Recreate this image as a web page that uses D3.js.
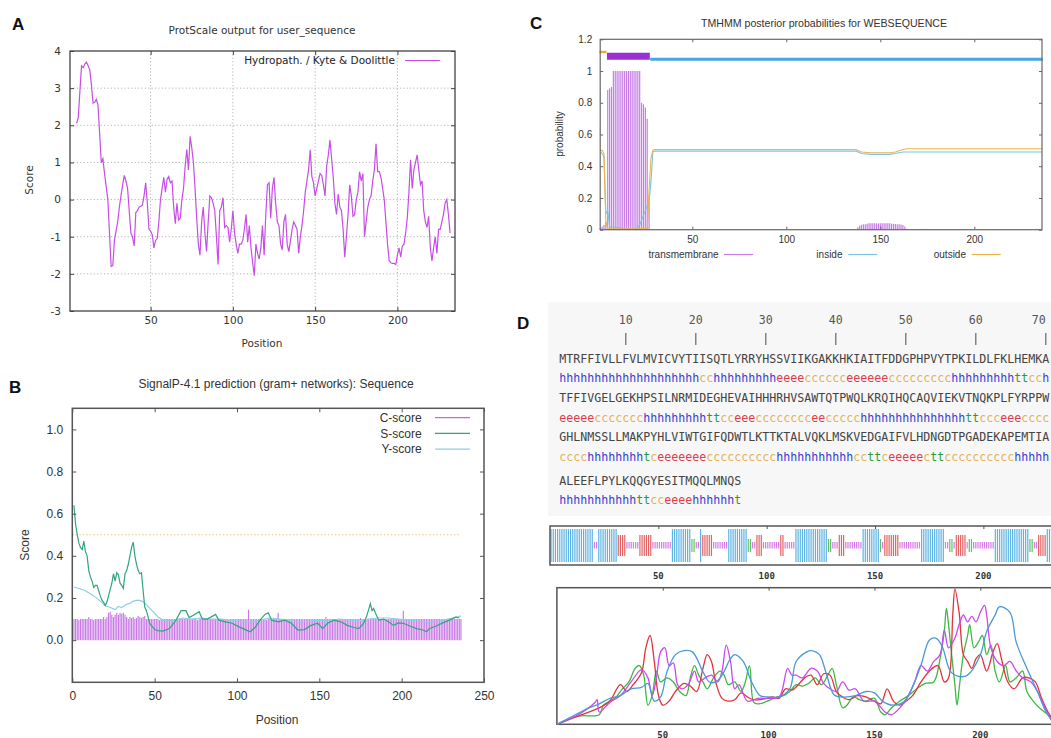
<!DOCTYPE html>
<html>
<head>
<meta charset="utf-8">
<title>Protein sequence analysis panels</title>
<script src="https://cdn.jsdelivr.net/npm/d3@7"></script>
<style>
  body { margin: 0; background: #fff; }
  svg { display: block; }
</style>
</head>
<body>
<svg id="fig" width="1051" height="738"></svg>
<script>
// ---------- A: ProtScale (Kyte & Doolittle) ----------
const kdXTicks = [50, 100, 150, 200];
const kdYTicks = [-3, -2, -1, 0, 1, 2, 3, 4];
const kdProfile = [
  [5,2.05],[6,2.2],[7,2.9],[8,3.6],[9,3.55],[10,3.65],[11,3.7],[12,3.6],[13,3.5],[14,3.1],[15,2.6],[16,2.62],[17,2.7],[18,2.55],[19,1.8],[20,1.0],
  [21,1.1],[22,0.7],[23,0.35],[24,0],[25,-0.9],[26,-1.8],[27,-1.78],[28,-1.1],[29,-0.85],[30,-0.6],[31,-0.2],[32,0.1],[33,0.4],[34,0.65],[35,0.5],
  [36,0.3],[37,-0.3],[38,-0.9],[39,-1.0],[40,-1.25],[41,-0.35],[42,-0.3],[43,-0.2],[44,-0.18],[45,-0.15],[46,0.1],[47,0.45],[48,-0.1],[49,-0.8],
  [50,-0.85],[51,-0.95],[52,-1.3],[53,-1.1],[54,-1.05],[55,-0.6],[56,0],[57,0.3],[58,0.6],[59,0.2],[60,0.55],[61,0.62],[62,0.45],[63,0.5],
  [64,-0.2],[65,-0.65],[66,-0.1],[67,-0.55],[68,-0.5],[69,0],[70,0.3],[71,0.9],[72,1.35],[73,0.8],[74,1.7],[75,1.4],[76,1.0],[77,0.3],[78,-0.5],
  [79,-1.2],[80,-1.5],[81,-0.6],[82,-0.2],[83,-0.9],[84,-1.4],[85,-0.6],[86,0.1],[87,0.05],[88,-0.1],[89,-0.3],[90,-1.0],[91,-1.75],[92,-0.3],
  [93,-0.2],[94,0.05],[95,-0.75],[96,-0.7],[97,-0.75],[98,-1.15],[99,-0.8],[100,-0.3],[101,-0.9],[102,-1.2],[103,-1.45],[104,-1.2],[105,-1.2],
  [106,-1.1],[107,-0.8],[108,-0.4],[109,-1.15],[110,-0.7],[111,-1.3],[112,-1.7],[113,-2.05],[114,-1.2],[115,-1.45],[116,-1.6],[117,-1.3],
  [118,-0.7],[119,-1.5],[120,-0.4],[121,0.4],[122,0.45],[123,-0.5],[124,0.3],[125,0.6],[126,-0.1],[127,-0.6],[128,-0.7],[129,-1.2],[130,-1.35],
  [131,-0.6],[132,-0.4],[133,-1.2],[134,-1.4],[135,-1.1],[136,-0.8],[137,-0.6],[138,-0.7],[139,-0.8],[140,-1.45],[141,-1.0],[142,-0.7],[143,-0.3],
  [144,0.2],[145,0.5],[146,0.8],[147,1.34],[148,0.62],[149,0.45],[150,0.1],[151,0.3],[152,0.5],[153,0.7],[154,0.65],[155,0.4],[156,0.1],
  [157,0.9],[158,1.2],[159,1.6],[160,1.1],[161,0.6],[162,-0.1],[163,-0.4],[164,0.15],[165,-0.2],[166,-0.3],[167,-0.8],[168,-1.55],[169,-1.0],
  [170,-0.4],[171,0.4],[172,0.1],[173,-0.45],[174,-0.4],[175,0],[176,0.2],[177,0.75],[178,0.5],[179,0.7],[180,-1.0],[181,-0.6],[182,-0.2],
  [183,0],[184,0.1],[185,0.5],[186,0.8],[187,1.5],[188,0.75],[189,0.75],[190,0.6],[191,0.3],[192,0],[193,-0.6],[194,-1.2],[195,-1.65],
  [196,-1.7],[197,-1.72],[198,-1.72],[199,-1.75],[200,-1.5],[201,-1.3],[202,-1.55],[203,-1.25],[204,-1.2],[205,-0.9],[206,-0.5],[207,0.2],
  [208,1.07],[209,0.3],[210,0.8],[211,1.0],[212,1.2],[213,0.8],[214,0.4],[215,0.5],[216,-0.3],[217,-0.6],[218,-0.75],[219,-0.45],[220,-1.3],
  [221,-1.65],[222,-1.3],[223,-1.0],[224,-1.45],[225,-0.8],[226,-0.8],[227,-0.6],[228,-0.4],[229,-0.1],[230,0.0],[231,-0.4],[232,-0.9]
];

// ---------- B: SignalP-4.1 ----------
const spXTicks = [0, 50, 100, 150, 200, 250];
const spYTicks = [0, 0.2, 0.4, 0.6, 0.8, 1.0];
const spCutoff = 0.5;
const cScore = [
  0.10,0.10,0.10,0.095,0.10,0.10,0.10,0.10,0.10,0.11,0.10,0.10,0.095,0.10,0.10,0.10,0.10,0.10,0.11,0.10,
  0.11,0.13,0.135,0.12,0.11,0.12,0.13,0.12,0.13,0.125,0.13,0.12,0.11,0.10,0.11,0.105,0.11,0.10,0.105,0.115,
  0.11,0.105,0.11,0.115,0.10,0.10,0.10,0.10,0.10,0.10,0.10,0.10,0.095,0.10,0.10,0.10,0.10,0.10,0.10,0.10,
  0.10,0.10,0.10,0.10,0.105,0.10,0.10,0.10,0.10,0.10,0.10,0.10,0.10,0.10,0.10,0.095,0.10,0.10,0.10,0.10,
  0.10,0.10,0.10,0.10,0.10,0.10,0.10,0.10,0.10,0.10,0.10,0.10,0.10,0.10,0.095,0.10,0.10,0.10,0.10,0.10,
  0.10,0.10,0.10,0.10,0.10,0.10,0.145,0.10,0.10,0.10,0.10,0.10,0.10,0.10,0.10,0.10,0.10,0.095,0.10,0.10,
  0.10,0.10,0.10,0.10,0.13,0.10,0.10,0.10,0.10,0.10,0.10,0.10,0.10,0.10,0.10,0.10,0.10,0.10,0.10,0.10,
  0.10,0.10,0.10,0.10,0.10,0.10,0.10,0.10,0.10,0.10,0.10,0.10,0.10,0.11,0.10,0.10,0.10,0.10,0.10,0.10,
  0.10,0.10,0.10,0.10,0.10,0.10,0.10,0.10,0.10,0.10,0.10,0.10,0.10,0.10,0.105,0.10,0.10,0.10,0.10,0.10,
  0.10,0.10,0.10,0.10,0.10,0.10,0.10,0.10,0.10,0.10,0.10,0.10,0.10,0.10,0.10,0.10,0.10,0.10,0.10,0.10,
  0.14,0.10,0.10,0.10,0.10,0.10,0.10,0.10,0.10,0.10,0.10,0.10,0.10,0.10,0.10,0.10,0.10,0.10,0.10,0.10,
  0.10,0.10,0.10,0.10,0.10,0.10,0.10,0.10,0.10,0.10,0.10,0.10,0.10,0.10,0.10,0.10
];
const sScore = [
  [1,0.64],[2,0.55],[3,0.50],[4,0.46],[5,0.44],[6,0.43],[7,0.47],[8,0.42],[9,0.40],[10,0.33],[11,0.30],[12,0.28],[13,0.25],[14,0.26],
  [15,0.26],[16,0.235],[17,0.21],[18,0.19],[19,0.18],[20,0.165],[21,0.18],[22,0.21],[23,0.24],[24,0.27],[25,0.315],[26,0.28],[27,0.32],
  [28,0.31],[29,0.27],[30,0.26],[31,0.245],[32,0.315],[33,0.33],[34,0.36],[35,0.40],[36,0.44],[37,0.465],[38,0.40],[39,0.36],[40,0.33],
  [41,0.315],[42,0.32],[43,0.235],[44,0.157],[45,0.14],[46,0.11],[47,0.08],[48,0.07],[50,0.05],[52,0.045],[55,0.043],[59,0.055],[63,0.095],
  [66,0.14],[69,0.14],[71,0.107],[74,0.12],[77,0.135],[79,0.10],[82,0.10],[87,0.122],[89,0.095],[93,0.087],[97,0.08],[101,0.064],[105,0.05],
  [108,0.04],[111,0.06],[114,0.095],[117,0.122],[119,0.13],[121,0.095],[125,0.087],[129,0.095],[133,0.08],[137,0.048],[141,0.05],[145,0.07],
  [149,0.08],[152,0.055],[155,0.08],[159,0.095],[163,0.087],[167,0.07],[171,0.06],[174,0.055],[177,0.08],[179,0.12],[181,0.173],[182,0.14],
  [183,0.15],[184,0.13],[186,0.095],[189,0.10],[192,0.087],[195,0.07],[198,0.082],[201,0.08],[205,0.067],[209,0.055],[213,0.048],[215,0.04],
  [217,0.055],[221,0.067],[225,0.082],[229,0.095],[233,0.11],[235,0.105]
];
const yScore = [
  [1,0.252],[4,0.245],[7,0.238],[10,0.225],[13,0.21],[17,0.185],[20,0.163],[23,0.155],[26,0.145],[28,0.16],[30,0.155],[33,0.17],[35,0.175],
  [37,0.185],[40,0.19],[43,0.183],[46,0.16],[49,0.135],[52,0.11],[55,0.095],[59,0.09],[63,0.095],[67,0.105],[72,0.1],[78,0.105],[84,0.1],
  [90,0.1],[96,0.095],[102,0.09],[108,0.085],[114,0.095],[120,0.105],[126,0.1],[132,0.095],[138,0.085],[144,0.09],[150,0.095],[156,0.09],
  [162,0.1],[168,0.095],[174,0.09],[180,0.1],[186,0.105],[192,0.105],[198,0.1],[204,0.095],[210,0.09],[216,0.085],[222,0.09],[228,0.1],
  [234,0.11],[236,0.115]
];

// ---------- C: TMHMM ----------
const tmXTicks = [50, 100, 150, 200];
const tmYTicks = [0, 0.2, 0.4, 0.6, 0.8, 1, 1.2];
const tmTopology = [["outside", 1, 4], ["TMhelix", 5, 27], ["inside", 28, 236]];
const tmPosterior = [
  [1,0.01],[2,0.02],[3,0.03],[4,0.05],[5,0.88],[6,0.89],[7,0.9],[8,1],[9,1],[10,1],[11,1],[12,1],[13,1],[14,1],[15,1],[16,1],[17,1],
  [18,1],[19,1],[20,1],[21,1],[22,1],[23,0.8],[24,0.79],[25,0.77],[26,0.7],[27,0.18],
  [138,0.015],[139,0.025],[140,0.03],[141,0.035],[142,0.035],[143,0.038],[144,0.04],[145,0.04],[146,0.04],[147,0.04],[148,0.04],[149,0.04],
  [150,0.04],[151,0.04],[152,0.04],[153,0.04],[154,0.04],[155,0.04],[156,0.038],[157,0.037],[158,0.036],[159,0.035],[160,0.035],[161,0.033],
  [162,0.03],[163,0.02],[164,0.006],[166,0.005],[168,0.005],[170,0.005],[172,0.005],[174,0.005]
];
const tmInside = [
  [1,0.49],[2,0.48],[3,0.46],[4,0.1],[5,0.12],[6,0.02],[20,0.0],[22,0.03],[25,0.12],[27,0.18],[28,0.3],[29,0.49],[30,0.495],[137,0.495],
  [140,0.48],[145,0.475],[155,0.475],[158,0.48],[162,0.49],[236,0.49]
];
const tmOutside = [
  [1,0.5],[2,0.5],[3,0.48],[4,0.05],[5,0.005],[26,0.005],[27,0.25],[28,0.45],[29,0.5],[30,0.505],[137,0.505],[140,0.49],[145,0.485],
  [155,0.485],[158,0.49],[162,0.505],[164,0.51],[236,0.51]
];

// ---------- D: secondary structure ----------
const seqRows = [
  "MTRFFIVLLFVLMVICVYTIISQTLYRRYHSSVIIKGAKKHKIAITFDDGPHPVYTPKILDLFKLHEMKA",
  "TFFIVGELGEKHPSILNRMIDEGHEVAIHHHRHVSAWTQTPWQLKRQIHQCAQVIEKVTNQKPLFYRPPW",
  "GHLNMSSLLMAKPYHLVIWTGIFQDWTLKTTKTALVQKLMSKVEDGAIFVLHDNGDTPGADEKAPEMTIA",
  "ALEEFLPYLKQQGYESITMQQLMNQS"
];
const ssRows = [
  "hhhhhhhhhhhhhhhhhhhh" + "cc" + "hhhhhhhhh" + "eeee" + "cccccc" + "eeeeee" + "ccccccccc" + "hhhhhhhhh" + "tt" + "cc" + "h",
  "eeeee" + "ccccccc" + "hhhhhhhhh" + "tt" + "cc" + "eee" + "cccccccc" + "ee" + "ccccc" + "hhhhhhhhhhhhhhh" + "tt" + "ccc" + "eee" + "cccc",
  "cccc" + "hhhhhhhh" + "t" + "c" + "eeeeeee" + "cccccccccc" + "hhhhhhhhhhh" + "cc" + "tt" + "c" + "eeeee" + "c" + "tt" + "cccccccccc" + "hhhhh",
  "hhhhhhhhhhh" + "tt" + "cc" + "eeee" + "hhhhhh" + "t"
];
const seqRuler = [10, 20, 30, 40, 50, 60, 70];
const ssXTicks = [50, 100, 150, 200];
const ssHelix = [
  [0,0],[5,0.04],[10,0.08],[15,0.12],[20,0.15],[25,0.19],[30,0.21],[35,0.26],[40,0.27],[43,0.30],[46,0.17],[49,0.2],[52,0.385],[56,0.51],
  [60,0.54],[64,0.53],[69,0.385],[72,0.31],[75,0.31],[78,0.36],[82,0.48],[84,0.51],[88,0.46],[92,0.31],[96,0.21],[100,0.2],[105,0.2],
  [110,0.26],[113,0.46],[118,0.53],[120,0.54],[124,0.51],[127,0.385],[131,0.215],[135,0.2],[141,0.21],[146,0.24],[150,0.23],[154,0.166],
  [159,0.14],[164,0.166],[167,0.24],[172,0.434],[176,0.617],[179,0.63],[182,0.57],[186,0.385],[190,0.35],[194,0.36],[200,0.507],[203,0.68],
  [207,0.8],[209,0.86],[214,0.82],[217,0.6],[222,0.41],[227,0.24],[231,0.093],[234,0.03]
];
const ssCoil = [
  [0,0],[10,0.07],[18,0.16],[19,0.18],[20,0.09],[25,0.16],[30,0.21],[35,0.31],[40,0.4],[43,0.34],[45,0.21],[47,0.34],[49,0.53],[51,0.56],
  [53,0.43],[55,0.45],[57,0.29],[59,0.26],[62,0.29],[65,0.39],[67,0.31],[70,0.34],[73,0.36],[76,0.31],[78,0.39],[80,0.58],[82,0.46],
  [84,0.26],[86,0.29],[90,0.17],[95,0.19],[100,0.19],[105,0.2],[109,0.41],[111,0.36],[113,0.36],[116,0.34],[120,0.41],[123,0.39],[126,0.3],
  [129,0.26],[132,0.24],[135,0.31],[138,0.25],[141,0.26],[145,0.17],[150,0.17],[155,0.09],[158,0.07],[162,0.12],[166,0.21],[169,0.31],
  [172,0.43],[175,0.39],[178,0.46],[181,0.51],[183,0.69],[185,0.56],[188,0.63],[190,0.73],[192,0.8],[194,0.75],[196,0.79],[198,0.75],
  [200,0.82],[202,0.87],[203,0.8],[205,0.56],[208,0.46],[211,0.43],[214,0.46],[217,0.39],[220,0.34],[224,0.31],[228,0.21],[232,0.07],[234,0.02]
];
const ssStrand = [
  [0,0],[10,0.06],[20,0.12],[25,0.17],[30,0.29],[33,0.24],[36,0.29],[40,0.38],[42,0.56],[44,0.65],[46,0.46],[48,0.21],[50,0.14],[53,0.17],
  [56,0.24],[60,0.3],[63,0.28],[66,0.24],[69,0.41],[71,0.51],[73,0.46],[75,0.31],[78,0.19],[81,0.17],[84,0.18],[87,0.23],[90,0.2],[93,0.18],
  [96,0.18],[99,0.19],[102,0.2],[105,0.19],[108,0.26],[111,0.25],[114,0.29],[117,0.34],[120,0.36],[123,0.29],[126,0.37],[129,0.36],
  [132,0.24],[135,0.2],[138,0.18],[142,0.21],[146,0.2],[150,0.17],[153,0.15],[156,0.26],[159,0.17],[162,0.14],[165,0.17],[168,0.21],
  [172,0.31],[176,0.39],[180,0.43],[183,0.31],[185,0.34],[187,0.8],[188,0.99],[190,0.82],[192,0.51],[194,0.46],[196,0.41],[198,0.48],
  [200,0.51],[203,0.39],[206,0.53],[208,0.59],[210,0.48],[213,0.31],[216,0.26],[220,0.34],[223,0.34],[226,0.31],[229,0.19],[232,0.09],[235,0.02]
];
const ssTurn = [
  [0,0],[10,0.06],[20,0.07],[22,0.14],[25,0.17],[28,0.2],[31,0.26],[34,0.31],[37,0.41],[39,0.43],[41,0.36],[43,0.14],[45,0.21],[47,0.39],
  [49,0.31],[52,0.34],[55,0.31],[58,0.24],[61,0.21],[63,0.34],[65,0.43],[67,0.36],[69,0.31],[71,0.26],[74,0.34],[77,0.39],[79,0.36],
  [81,0.29],[84,0.31],[87,0.24],[89,0.31],[91,0.43],[93,0.16],[95,0.15],[98,0.16],[101,0.18],[104,0.2],[107,0.21],[110,0.24],[113,0.29],
  [116,0.28],[119,0.3],[122,0.34],[125,0.29],[128,0.36],[130,0.41],[132,0.29],[135,0.12],[137,0.14],[140,0.2],[143,0.18],[146,0.17],
  [150,0.19],[153,0.09],[155,0.07],[158,0.12],[162,0.17],[166,0.21],[170,0.26],[174,0.3],[178,0.31],[181,0.48],[183,0.68],[184,0.85],
  [185,0.73],[187,0.43],[188,0.29],[189,0.14],[190,0.26],[192,0.51],[194,0.65],[195,0.73],[197,0.56],[199,0.6],[201,0.65],[203,0.51],
  [205,0.58],[207,0.39],[209,0.31],[212,0.43],[214,0.31],[217,0.34],[220,0.39],[222,0.24],[225,0.17],[228,0.12],[232,0.07],[235,0.03]
];

// ---------- drawing ----------
const svg = d3.select("#fig");
svg.append("rect").attr("width", 1051).attr("height", 738).attr("fill", "#fff");

// gnuplot-like box with inward ticks on all four sides
function boxAxes(g, x, y, o) {
  const [xa, xb] = x.range(), [ya, yb] = y.range();
  const put = (axis, tr) => {
    const a = g.append("g").attr("transform", tr).call(axis);
    a.attr("font-family", o.font).attr("font-size", o.size);
    a.select(".domain").remove();
    a.selectAll(".tick line").attr("stroke", o.stroke).attr("stroke-width", 1);
    a.selectAll(".tick text").attr("fill", o.text || "#333");
    return a;
  };
  put(d3.axisLeft(y).tickValues(o.yTicks).tickFormat(o.yFmt).tickSizeInner(-o.tick).tickSizeOuter(0).tickPadding(o.yPad), `translate(${xa},0)`);
  put(d3.axisRight(y).tickValues(o.yTicks).tickFormat("").tickSizeInner(-o.tick).tickSizeOuter(0), `translate(${xb},0)`);
  put(d3.axisBottom(x).tickValues(o.xTicks).tickFormat(o.xFmt).tickSizeInner(-o.tick).tickSizeOuter(0).tickPadding(o.xPad), `translate(0,${ya})`);
  put(d3.axisTop(x).tickValues(o.xTicks).tickFormat("").tickSizeInner(-o.tick).tickSizeOuter(0), `translate(0,${yb})`);
  g.append("rect").attr("x", xa).attr("y", yb).attr("width", xb - xa).attr("height", ya - yb)
    .attr("fill", "none").attr("stroke", o.stroke).attr("stroke-width", o.sw);
}

function panelLabel(t, x, y) {
  svg.append("text").attr("x", x).attr("y", y).text(t)
    .attr("font-family", "Liberation Sans, Arial, sans-serif").attr("font-weight", "bold")
    .attr("font-size", 17).attr("fill", "#111");
}

// ===== Panel A =====
{
  const g = svg.append("g").attr("font-family", "DejaVu Sans").attr("font-size", 10);
  const x = d3.scaleLinear().domain([1, 235]).range([70, 455]);
  const y = d3.scaleLinear().domain([-3, 4]).range([311, 51]);

  g.append("g").selectAll("line.vx").data(kdXTicks).join("line")
    .attr("x1", d => x(d)).attr("x2", d => x(d)).attr("y1", 51).attr("y2", 311)
    .attr("stroke", "#b5b5b5").attr("stroke-dasharray", "1.2,2.2");
  g.append("g").selectAll("line.hy").data(kdYTicks.filter(d => d > -3 && d < 4)).join("line")
    .attr("x1", 70).attr("x2", 455).attr("y1", d => y(d)).attr("y2", d => y(d))
    .attr("stroke", "#b5b5b5").attr("stroke-dasharray", "1.2,2.2");

  g.append("path").datum(kdProfile)
    .attr("d", d3.line().x(d => x(d[0])).y(d => y(d[1])))
    .attr("fill", "none").attr("stroke", "#c64ee6").attr("stroke-width", 1.2);

  boxAxes(g, x, y, { yTicks: kdYTicks, xTicks: kdXTicks, yFmt: d => String(d), xFmt: d => String(d),
    tick: 4, yPad: 9, xPad: 6, font: "DejaVu Sans", size: 10.5, stroke: "#444", sw: 1.3 });

  g.append("text").attr("x", 262).attr("y", 34).attr("text-anchor", "middle").attr("fill", "#333")
    .attr("font-size", 10.5).text("ProtScale output for user_sequence");
  g.append("text").attr("x", 395).attr("y", 64).attr("text-anchor", "end").attr("fill", "#222")
    .attr("font-size", 10.5).text("Hydropath. / Kyte & Doolittle");
  g.append("line").attr("x1", 405).attr("x2", 440).attr("y1", 60.5).attr("y2", 60.5)
    .attr("stroke", "#c64ee6").attr("stroke-width", 1.2);
  g.append("text").attr("transform", "translate(33,180) rotate(-90)").attr("text-anchor", "middle")
    .attr("fill", "#333").attr("font-size", 10.5).text("Score");
  g.append("text").attr("x", 262).attr("y", 347).attr("text-anchor", "middle")
    .attr("fill", "#333").attr("font-size", 10.5).text("Position");
}
panelLabel("A", 12, 30);

// ===== Panel B =====
{
  const F = "Liberation Sans, Arial, sans-serif";
  const g = svg.append("g").attr("font-family", F).attr("font-size", 12);
  const x = d3.scaleLinear().domain([0, 250]).range([72.3, 484]);
  const y = d3.scaleLinear().domain([-0.2, 1.1]).range([682.3, 408.3]);

  g.append("line").attr("x1", x(0)).attr("x2", x(236)).attr("y1", y(spCutoff)).attr("y2", y(spCutoff))
    .attr("stroke", "#f3c37e").attr("stroke-width", 1).attr("stroke-dasharray", "1.5,2");

  g.append("g").selectAll("line").data(cScore).join("line")
    .attr("x1", (d, i) => x(i + 1)).attr("x2", (d, i) => x(i + 1))
    .attr("y1", y(0)).attr("y2", d => y(d))
    .attr("stroke", "#c979e6").attr("stroke-width", 1.15);

  const ln = d3.line().x(d => x(d[0])).y(d => y(d[1]));
  g.append("path").datum(yScore).attr("d", ln).attr("fill", "none").attr("stroke", "#8dcde6").attr("stroke-width", 1.2);
  g.append("path").datum(sScore).attr("d", ln).attr("fill", "none").attr("stroke", "#32a57c").attr("stroke-width", 1.2);

  boxAxes(g, x, y, { yTicks: spYTicks, xTicks: spXTicks, yFmt: d3.format(".1f"), xFmt: d => String(d),
    tick: 4, yPad: 9, xPad: 9, font: F, size: 12, stroke: "#555", sw: 1.5 });

  g.append("text").attr("x", 276).attr("y", 388).attr("text-anchor", "middle").attr("fill", "#333")
    .text("SignalP-4.1 prediction (gram+ networks): Sequence");
  const legend = [["C-score", "#cc66dd"], ["S-score", "#32a57c"], ["Y-score", "#8dcde6"]];
  legend.forEach(([name, c], i) => {
    const ly = 417.7 + i * 15.7;
    g.append("text").attr("x", 421.7).attr("y", ly + 4.2).attr("text-anchor", "end").attr("fill", "#333").text(name);
    g.append("line").attr("x1", 435).attr("x2", 470).attr("y1", ly).attr("y2", ly).attr("stroke", c).attr("stroke-width", 1.3);
  });
  g.append("text").attr("transform", "translate(29,545) rotate(-90)").attr("text-anchor", "middle")
    .attr("fill", "#333").text("Score");
  g.append("text").attr("x", 277).attr("y", 724).attr("text-anchor", "middle").attr("fill", "#333").text("Position");
}
panelLabel("B", 9, 393);

// ===== Panel C =====
{
  const F = "Liberation Sans, Arial, sans-serif";
  const g = svg.append("g").attr("font-family", F).attr("font-size", 10);
  const x = d3.scaleLinear().domain([1, 236]).range([600.2, 1042]);
  const y = d3.scaleLinear().domain([0, 1.2]).range([229.7, 39.3]);

  g.append("g").selectAll("line").data(tmPosterior).join("line")
    .attr("x1", d => x(d[0])).attr("x2", d => x(d[0]))
    .attr("y1", y(0)).attr("y2", d => y(d[1]))
    .attr("stroke", "#c67de6").attr("stroke-width", 1.2);

  const ln = d3.line().x(d => x(d[0])).y(d => y(d[1]));
  g.append("path").datum(tmInside).attr("d", ln).attr("fill", "none").attr("stroke", "#7cc3e6").attr("stroke-width", 1.1);
  g.append("path").datum(tmOutside).attr("d", ln).attr("fill", "none").attr("stroke", "#e9b54a").attr("stroke-width", 1.1);

  const topoStyle = { outside: ["#eeaa33", 1.12, 2.5], TMhelix: ["#9a2fd6", 1.093, 7], inside: ["#4aa6e0", 1.074, 3] };
  g.append("g").selectAll("line").data(tmTopology).join("line")
    .attr("x1", d => x(d[1] - 0.4)).attr("x2", d => x(d[2] + 0.4))
    .attr("y1", d => y(topoStyle[d[0]][1])).attr("y2", d => y(topoStyle[d[0]][1]))
    .attr("stroke", d => topoStyle[d[0]][0]).attr("stroke-width", d => topoStyle[d[0]][2]);

  boxAxes(g, x, y, { yTicks: tmYTicks, xTicks: tmXTicks, yFmt: d => String(d), xFmt: d => String(d),
    tick: 3, yPad: 8, xPad: 6, font: F, size: 10, stroke: "#666", sw: 1.2 });

  g.append("text").attr("x", 824).attr("y", 27).attr("text-anchor", "middle").attr("fill", "#333")
    .attr("font-size", 10.6).text("TMHMM posterior probabilities for WEBSEQUENCE");
  g.append("text").attr("transform", "translate(563,134) rotate(-90)").attr("text-anchor", "middle")
    .attr("fill", "#333").text("probability");
  const legend = [["transmembrane", 718.5, 724, "#c67de6"], ["inside", 842.5, 848.3, "#7cc3e6"], ["outside", 966, 971.7, "#e9b54a"]];
  legend.forEach(([name, tx, lx, c]) => {
    g.append("text").attr("x", tx).attr("y", 258).attr("text-anchor", "end").attr("fill", "#333").text(name);
    g.append("line").attr("x1", lx).attr("x2", lx + 29).attr("y1", 254.5).attr("y2", 254.5).attr("stroke", c).attr("stroke-width", 1.2);
  });
}
panelLabel("C", 530, 29);

// ===== Panel D =====
{
  const MONO = "DejaVu Sans Mono, monospace";
  const g = svg.append("g").attr("font-family", MONO);
  const ssColor = { h: "#3b3bd0", e: "#e0404e", c: "#e2b35a", t: "#2c9a3c" };

  g.append("rect").attr("x", 548).attr("y", 302).attr("width", 503).attr("height", 214).attr("fill", "#f7f7f7");

  const xs = d3.scaleLinear().domain([0, 70]).range([559.3, 1049.3]);
  // the last ruler number sits against the right edge; keep it inside the page
  g.append("g").selectAll("text").data(seqRuler).join("text")
    .attr("x", d => Math.min(xs(d - 0.5), 1050)).attr("y", 323.5)
    .attr("text-anchor", d => xs(d - 0.5) + 7 > 1050 ? "end" : "middle")
    .attr("font-size", 11.6).attr("fill", "#555").text(d => d);
  g.append("g").selectAll("line").data(seqRuler).join("line")
    .attr("x1", d => xs(d - 0.5)).attr("x2", d => xs(d - 0.5)).attr("y1", 333).attr("y2", 345)
    .attr("stroke", "#666").attr("stroke-width", 1.2);

  const rowY = [363, 382, 402, 421.5, 441, 461, 485, 504];
  seqRows.forEach((s, r) => {
    g.append("text").attr("x", xs(0)).attr("y", rowY[2 * r]).attr("font-size", 11.63).attr("fill", "#444").text(s);
    const ss = ssRows[r].split("");
    g.append("g").selectAll("text").data(ss).join("text")
      .attr("x", (d, i) => xs(i)).attr("y", rowY[2 * r + 1])
      .attr("font-size", 11.63).attr("fill", d => ssColor[d]).text(d => d);
  });

  // secondary structure strip
  const ssAll = ssRows.join("").split("");
  const xStrip = d3.scaleLinear().domain([0, 236]).range([550, 1061.4]);
  const stripStyle = { h: ["#5db3e3", 529, 562], e: ["#e36363", 535, 556], t: ["#63c363", 539, 552], c: ["#d67be8", 542, 548.5] };
  g.append("g").selectAll("line").data(ssAll).join("line")
    .attr("x1", (d, i) => xStrip(i + 0.5)).attr("x2", (d, i) => xStrip(i + 0.5))
    .attr("y1", d => stripStyle[d][1]).attr("y2", d => stripStyle[d][2])
    .attr("stroke", d => stripStyle[d][0]).attr("stroke-width", 1.2);
  g.append("rect").attr("x", 550).attr("y", 526).attr("width", 520).attr("height", 39)
    .attr("fill", "none").attr("stroke", "#555").attr("stroke-width", 1.5);
  g.append("g").attr("transform", "translate(0,526)")
    .call(d3.axisTop(xStrip).tickValues(ssXTicks).tickSizeInner(-3).tickSizeOuter(0).tickFormat(""))
    .call(a => a.select(".domain").remove()).selectAll("line").attr("stroke", "#555");
  g.append("g").selectAll("text.sl").data(ssXTicks).join("text")
    .attr("x", d => xStrip(d)).attr("y", 578.5).attr("text-anchor", "middle")
    .attr("font-size", 9).attr("font-weight", "bold").attr("fill", "#333").text(d => d);

  // per-residue state probabilities
  const xp = d3.scaleLinear().domain([0, 236]).range([556.9, 1056.5]);
  const yp = d3.scaleLinear().domain([0, 1]).range([724.3, 587.7]);
  g.append("rect").attr("x", 556.9).attr("y", 587.7).attr("width", 510).attr("height", 136.6)
    .attr("fill", "none").attr("stroke", "#555").attr("stroke-width", 1.5);
  const ln = d3.line().x(d => xp(d[0])).y(d => yp(d[1])).curve(d3.curveCatmullRom);
  [[ssTurn, "#3fb845"], [ssStrand, "#e5323c"], [ssCoil, "#cc48ee"], [ssHelix, "#4a98d8"]].forEach(([data, c]) => {
    g.append("path").datum(data).attr("d", ln).attr("fill", "none").attr("stroke", c).attr("stroke-width", 1.3);
  });
  g.append("g").attr("transform", "translate(0,587.7)")
    .call(d3.axisTop(xp).tickValues(ssXTicks).tickSizeInner(-3).tickSizeOuter(0).tickFormat(""))
    .call(a => a.select(".domain").remove()).selectAll("line").attr("stroke", "#555");
  g.append("g").selectAll("text.pl").data(ssXTicks).join("text")
    .attr("x", d => xp(d)).attr("y", 737.5).attr("text-anchor", "middle")
    .attr("font-size", 9).attr("font-weight", "bold").attr("fill", "#333").text(d => d);
}
panelLabel("D", 517, 329);
</script>
</body>
</html>
